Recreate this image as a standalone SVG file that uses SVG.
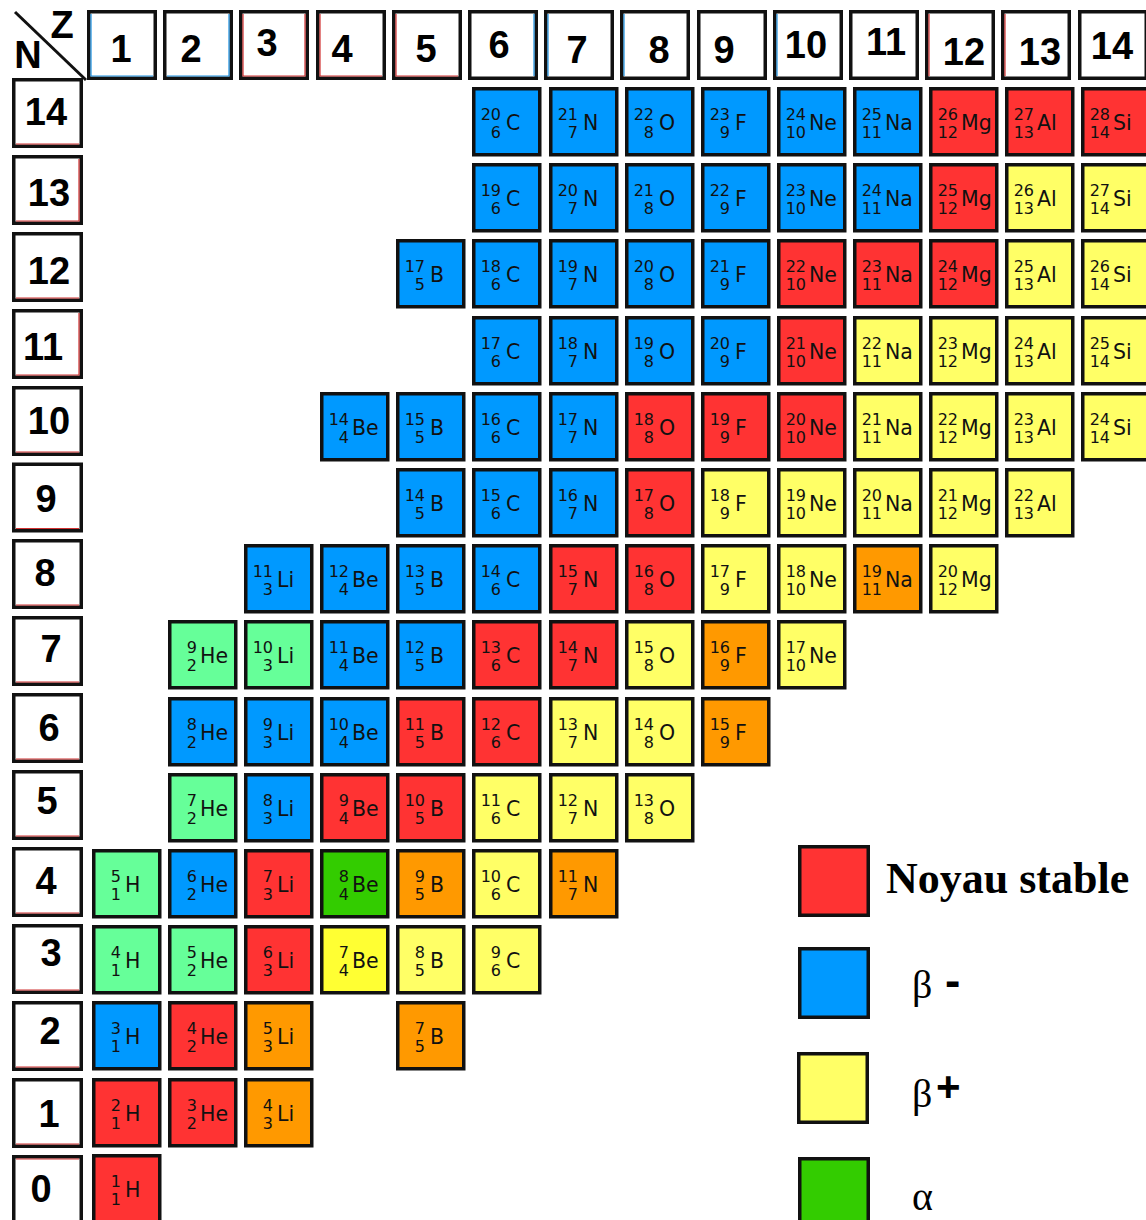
<svg xmlns="http://www.w3.org/2000/svg" width="1146" height="1220" viewBox="0 0 1146 1220">
<style>
.hd{fill:#fff;stroke:#111;stroke-width:3.5}
.ht{font-family:"Liberation Sans",Arial,sans-serif;font-weight:bold;font-size:38px;fill:#000;text-anchor:middle}
.tl{stroke-width:1.2;fill:none}
.tr{stroke:#d03030}.tb{stroke:#1a8fe0}
.k rect{stroke:#111;stroke-width:3.5}
.n{font-family:"DejaVu Sans",Verdana,sans-serif;font-size:16px;text-anchor:end;fill:#111}
.s{font-family:"DejaVu Sans",Verdana,sans-serif;font-size:20.5px;fill:#111}
.r{fill:#ff3333}.b{fill:#0099ff}.y{fill:#ffff66}.y2{fill:#ffff33}.o{fill:#ff9900}.l{fill:#66ff99}.g{fill:#33cc00}
.lg{stroke:#111;stroke-width:3.5}
.ser{font-family:"Liberation Serif","Times New Roman",serif;fill:#000}
</style>

<g id="corner">
<line x1="15" y1="12" x2="86" y2="80" stroke="#111" stroke-width="3"/>
<text class="ht" x="62" y="38" font-size="34">Z</text>
<text class="ht" x="28" y="68" font-size="34">N</text>
</g>

<g id="zheaders">
<g id="z1"><rect class="hd" x="88.75" y="11.75" width="66.5" height="66.5"/><path class="tl tb" d="M91,14V76H153"/><text class="ht" x="121" y="62">1</text></g>
<g id="z2"><rect class="hd" x="164.75" y="11.75" width="66.5" height="66.5"/><path class="tl tb" d="M167,76H229V14"/><text class="ht" x="191" y="62">2</text></g>
<g id="z3"><rect class="hd" x="240.75" y="11.75" width="66.5" height="66.5"/><path class="tl tr" d="M243,14V76H305V14"/><text class="ht" x="267" y="56">3</text></g>
<g id="z4"><rect class="hd" x="317.75" y="11.75" width="66.5" height="66.5"/><path class="tl tr" d="M320,14V76H382"/><text class="ht" x="342" y="62">4</text></g>
<g id="z5"><rect class="hd" x="393.75" y="11.75" width="66.5" height="66.5"/><path class="tl tr" d="M396,14V76H458"/><text class="ht" x="426" y="62">5</text></g>
<g id="z6"><rect class="hd" x="469.75" y="11.75" width="66.5" height="66.5"/><path class="tl tb" d="M534,14V76"/><text class="ht" x="499" y="58">6</text></g>
<g id="z7"><rect class="hd" x="545.75" y="11.75" width="66.5" height="66.5"/><path class="tl tb" d="M548,14V76"/><text class="ht" x="577" y="63">7</text></g>
<g id="z8"><rect class="hd" x="621.75" y="11.75" width="66.5" height="66.5"/><path class="tl tb" d="M624,14V76"/><text class="ht" x="659" y="63">8</text></g>
<g id="z9"><rect class="hd" x="698.75" y="11.75" width="66.5" height="66.5"/><text class="ht" x="724" y="63">9</text></g>
<g id="z10"><rect class="hd" x="774.75" y="11.75" width="66.5" height="66.5"/><path class="tl tb" d="M777,14V76"/><text class="ht" x="806" y="58">10</text></g>
<g id="z11"><rect class="hd" x="850.75" y="11.75" width="66.5" height="66.5"/><text class="ht" x="886" y="55">11</text></g>
<g id="z12"><rect class="hd" x="926.75" y="11.75" width="66.5" height="66.5"/><path class="tl tr" d="M929,14V76"/><text class="ht" x="964" y="65">12</text></g>
<g id="z13"><rect class="hd" x="1002.75" y="11.75" width="66.5" height="66.5"/><path class="tl tr" d="M1005,14V76"/><text class="ht" x="1040" y="65">13</text></g>
<g id="z14"><rect class="hd" x="1079.75" y="11.75" width="66.5" height="66.5"/><text class="ht" x="1112" y="59">14</text></g>
</g>

<g id="nheaders">
<g id="n14"><rect class="hd" x="13.75" y="79.75" width="67.5" height="66.5"/><path class="tl tr" d="M16,144H79"/><text class="ht" x="46" y="125">14</text></g>
<g id="n13"><rect class="hd" x="13.75" y="156.75" width="67.5" height="66.5"/><path class="tl tr" d="M16,221H79V159"/><text class="ht" x="49" y="206">13</text></g>
<g id="n12"><rect class="hd" x="13.75" y="233.75" width="67.5" height="66.5"/><path class="tl tr" d="M16,298H79"/><text class="ht" x="49" y="284">12</text></g>
<g id="n11"><rect class="hd" x="13.75" y="310.75" width="67.5" height="66.5"/><path class="tl tr" d="M16,375H79V313"/><text class="ht" x="43" y="360">11</text></g>
<g id="n10"><rect class="hd" x="13.75" y="387.75" width="67.5" height="66.5"/><path class="tl tr" d="M16,452H79"/><text class="ht" x="49" y="434">10</text></g>
<g id="n9"><rect class="hd" x="13.75" y="464.25" width="67.5" height="66.5"/><path class="tl tr" d="M16,528.5H79"/><text class="ht" x="46" y="512">9</text></g>
<g id="n8"><rect class="hd" x="13.75" y="540.75" width="67.5" height="66.5"/><path class="tl tr" d="M16,605H79"/><text class="ht" x="45" y="586">8</text></g>
<g id="n7"><rect class="hd" x="13.75" y="617.75" width="67.5" height="66.5"/><path class="tl tr" d="M16,682H79"/><text class="ht" x="51" y="662">7</text></g>
<g id="n6"><rect class="hd" x="13.75" y="694.75" width="67.5" height="66.5"/><path class="tl tr" d="M16,759H79"/><text class="ht" x="49" y="741">6</text></g>
<g id="n5"><rect class="hd" x="13.75" y="771.75" width="67.5" height="66.5"/><path class="tl tr" d="M16,836H79"/><text class="ht" x="47" y="814">5</text></g>
<g id="n4"><rect class="hd" x="13.75" y="848.75" width="67.5" height="66.5"/><path class="tl tr" d="M16,913H79"/><text class="ht" x="46" y="894">4</text></g>
<g id="n3"><rect class="hd" x="13.75" y="925.75" width="67.5" height="66.5"/><path class="tl tr" d="M16,990H79"/><text class="ht" x="51" y="966">3</text></g>
<g id="n2"><rect class="hd" x="13.75" y="1002.75" width="67.5" height="66.5"/><path class="tl tr" d="M16,1067H79"/><text class="ht" x="50" y="1044">2</text></g>
<g id="n1"><rect class="hd" x="13.75" y="1079.75" width="67.5" height="66.5"/><path class="tl tr" d="M16,1144H79"/><text class="ht" x="49" y="1127">1</text></g>
<g id="n0"><rect class="hd" x="13.75" y="1156.75" width="67.5" height="66.5"/><path class="tl tr" d="M16,1159H79"/><text class="ht" x="41" y="1202">0</text></g>
</g>

<g id="nuclides">
<!-- N=14 -->
<g id="C20" class="k" transform="translate(472,87)"><rect class="b" x="1.75" y="1.75" width="66" height="66"/><text class="n" x="29" y="33">20</text><text class="n" x="29" y="51">6</text><text class="s" x="34" y="43">C</text></g>
<g id="N21" class="k" transform="translate(549,87)"><rect class="b" x="1.75" y="1.75" width="66" height="66"/><text class="n" x="29" y="33">21</text><text class="n" x="29" y="51">7</text><text class="s" x="34" y="43">N</text></g>
<g id="O22" class="k" transform="translate(625,87)"><rect class="b" x="1.75" y="1.75" width="66" height="66"/><text class="n" x="29" y="33">22</text><text class="n" x="29" y="51">8</text><text class="s" x="34" y="43">O</text></g>
<g id="F23" class="k" transform="translate(701,87)"><rect class="b" x="1.75" y="1.75" width="66" height="66"/><text class="n" x="29" y="33">23</text><text class="n" x="29" y="51">9</text><text class="s" x="34" y="43">F</text></g>
<g id="Ne24" class="k" transform="translate(777,87)"><rect class="b" x="1.75" y="1.75" width="66" height="66"/><text class="n" x="29" y="33">24</text><text class="n" x="29" y="51">10</text><text class="s" x="32" y="43">Ne</text></g>
<g id="Na25" class="k" transform="translate(853,87)"><rect class="b" x="1.75" y="1.75" width="66" height="66"/><text class="n" x="29" y="33">25</text><text class="n" x="29" y="51">11</text><text class="s" x="32" y="43">Na</text></g>
<g id="Mg26" class="k" transform="translate(929,87)"><rect class="r" x="1.75" y="1.75" width="66" height="66"/><text class="n" x="29" y="33">26</text><text class="n" x="29" y="51">12</text><text class="s" x="32" y="43">Mg</text></g>
<g id="Al27" class="k" transform="translate(1005,87)"><rect class="r" x="1.75" y="1.75" width="66" height="66"/><text class="n" x="29" y="33">27</text><text class="n" x="29" y="51">13</text><text class="s" x="32" y="43">Al</text></g>
<g id="Si28" class="k" transform="translate(1081,87)"><rect class="r" x="1.75" y="1.75" width="66" height="66"/><text class="n" x="29" y="33">28</text><text class="n" x="29" y="51">14</text><text class="s" x="32" y="43">Si</text></g>
<!-- N=13 -->
<g id="C19" class="k" transform="translate(472,163)"><rect class="b" x="1.75" y="1.75" width="66" height="66"/><text class="n" x="29" y="33">19</text><text class="n" x="29" y="51">6</text><text class="s" x="34" y="43">C</text></g>
<g id="N20" class="k" transform="translate(549,163)"><rect class="b" x="1.75" y="1.75" width="66" height="66"/><text class="n" x="29" y="33">20</text><text class="n" x="29" y="51">7</text><text class="s" x="34" y="43">N</text></g>
<g id="O21" class="k" transform="translate(625,163)"><rect class="b" x="1.75" y="1.75" width="66" height="66"/><text class="n" x="29" y="33">21</text><text class="n" x="29" y="51">8</text><text class="s" x="34" y="43">O</text></g>
<g id="F22" class="k" transform="translate(701,163)"><rect class="b" x="1.75" y="1.75" width="66" height="66"/><text class="n" x="29" y="33">22</text><text class="n" x="29" y="51">9</text><text class="s" x="34" y="43">F</text></g>
<g id="Ne23" class="k" transform="translate(777,163)"><rect class="b" x="1.75" y="1.75" width="66" height="66"/><text class="n" x="29" y="33">23</text><text class="n" x="29" y="51">10</text><text class="s" x="32" y="43">Ne</text></g>
<g id="Na24" class="k" transform="translate(853,163)"><rect class="b" x="1.75" y="1.75" width="66" height="66"/><text class="n" x="29" y="33">24</text><text class="n" x="29" y="51">11</text><text class="s" x="32" y="43">Na</text></g>
<g id="Mg25" class="k" transform="translate(929,163)"><rect class="r" x="1.75" y="1.75" width="66" height="66"/><text class="n" x="29" y="33">25</text><text class="n" x="29" y="51">12</text><text class="s" x="32" y="43">Mg</text></g>
<g id="Al26" class="k" transform="translate(1005,163)"><rect class="y" x="1.75" y="1.75" width="66" height="66"/><text class="n" x="29" y="33">26</text><text class="n" x="29" y="51">13</text><text class="s" x="32" y="43">Al</text></g>
<g id="Si27" class="k" transform="translate(1081,163)"><rect class="y" x="1.75" y="1.75" width="66" height="66"/><text class="n" x="29" y="33">27</text><text class="n" x="29" y="51">14</text><text class="s" x="32" y="43">Si</text></g>
<!-- N=12 -->
<g id="B17" class="k" transform="translate(396,239)"><rect class="b" x="1.75" y="1.75" width="66" height="66"/><text class="n" x="29" y="33">17</text><text class="n" x="29" y="51">5</text><text class="s" x="34" y="43">B</text></g>
<g id="C18" class="k" transform="translate(472,239)"><rect class="b" x="1.75" y="1.75" width="66" height="66"/><text class="n" x="29" y="33">18</text><text class="n" x="29" y="51">6</text><text class="s" x="34" y="43">C</text></g>
<g id="N19" class="k" transform="translate(549,239)"><rect class="b" x="1.75" y="1.75" width="66" height="66"/><text class="n" x="29" y="33">19</text><text class="n" x="29" y="51">7</text><text class="s" x="34" y="43">N</text></g>
<g id="O20" class="k" transform="translate(625,239)"><rect class="b" x="1.75" y="1.75" width="66" height="66"/><text class="n" x="29" y="33">20</text><text class="n" x="29" y="51">8</text><text class="s" x="34" y="43">O</text></g>
<g id="F21" class="k" transform="translate(701,239)"><rect class="b" x="1.75" y="1.75" width="66" height="66"/><text class="n" x="29" y="33">21</text><text class="n" x="29" y="51">9</text><text class="s" x="34" y="43">F</text></g>
<g id="Ne22" class="k" transform="translate(777,239)"><rect class="r" x="1.75" y="1.75" width="66" height="66"/><text class="n" x="29" y="33">22</text><text class="n" x="29" y="51">10</text><text class="s" x="32" y="43">Ne</text></g>
<g id="Na23" class="k" transform="translate(853,239)"><rect class="r" x="1.75" y="1.75" width="66" height="66"/><text class="n" x="29" y="33">23</text><text class="n" x="29" y="51">11</text><text class="s" x="32" y="43">Na</text></g>
<g id="Mg24" class="k" transform="translate(929,239)"><rect class="r" x="1.75" y="1.75" width="66" height="66"/><text class="n" x="29" y="33">24</text><text class="n" x="29" y="51">12</text><text class="s" x="32" y="43">Mg</text></g>
<g id="Al25" class="k" transform="translate(1005,239)"><rect class="y" x="1.75" y="1.75" width="66" height="66"/><text class="n" x="29" y="33">25</text><text class="n" x="29" y="51">13</text><text class="s" x="32" y="43">Al</text></g>
<g id="Si26" class="k" transform="translate(1081,239)"><rect class="y" x="1.75" y="1.75" width="66" height="66"/><text class="n" x="29" y="33">26</text><text class="n" x="29" y="51">14</text><text class="s" x="32" y="43">Si</text></g>
<!-- N=11 -->
<g id="C17" class="k" transform="translate(472,316)"><rect class="b" x="1.75" y="1.75" width="66" height="66"/><text class="n" x="29" y="33">17</text><text class="n" x="29" y="51">6</text><text class="s" x="34" y="43">C</text></g>
<g id="N18" class="k" transform="translate(549,316)"><rect class="b" x="1.75" y="1.75" width="66" height="66"/><text class="n" x="29" y="33">18</text><text class="n" x="29" y="51">7</text><text class="s" x="34" y="43">N</text></g>
<g id="O19" class="k" transform="translate(625,316)"><rect class="b" x="1.75" y="1.75" width="66" height="66"/><text class="n" x="29" y="33">19</text><text class="n" x="29" y="51">8</text><text class="s" x="34" y="43">O</text></g>
<g id="F20" class="k" transform="translate(701,316)"><rect class="b" x="1.75" y="1.75" width="66" height="66"/><text class="n" x="29" y="33">20</text><text class="n" x="29" y="51">9</text><text class="s" x="34" y="43">F</text></g>
<g id="Ne21" class="k" transform="translate(777,316)"><rect class="r" x="1.75" y="1.75" width="66" height="66"/><text class="n" x="29" y="33">21</text><text class="n" x="29" y="51">10</text><text class="s" x="32" y="43">Ne</text></g>
<g id="Na22" class="k" transform="translate(853,316)"><rect class="y" x="1.75" y="1.75" width="66" height="66"/><text class="n" x="29" y="33">22</text><text class="n" x="29" y="51">11</text><text class="s" x="32" y="43">Na</text></g>
<g id="Mg23" class="k" transform="translate(929,316)"><rect class="y" x="1.75" y="1.75" width="66" height="66"/><text class="n" x="29" y="33">23</text><text class="n" x="29" y="51">12</text><text class="s" x="32" y="43">Mg</text></g>
<g id="Al24" class="k" transform="translate(1005,316)"><rect class="y" x="1.75" y="1.75" width="66" height="66"/><text class="n" x="29" y="33">24</text><text class="n" x="29" y="51">13</text><text class="s" x="32" y="43">Al</text></g>
<g id="Si25" class="k" transform="translate(1081,316)"><rect class="y" x="1.75" y="1.75" width="66" height="66"/><text class="n" x="29" y="33">25</text><text class="n" x="29" y="51">14</text><text class="s" x="32" y="43">Si</text></g>
<!-- N=10 -->
<g id="Be14" class="k" transform="translate(320,392)"><rect class="b" x="1.75" y="1.75" width="66" height="66"/><text class="n" x="29" y="33">14</text><text class="n" x="29" y="51">4</text><text class="s" x="32" y="43">Be</text></g>
<g id="B15" class="k" transform="translate(396,392)"><rect class="b" x="1.75" y="1.75" width="66" height="66"/><text class="n" x="29" y="33">15</text><text class="n" x="29" y="51">5</text><text class="s" x="34" y="43">B</text></g>
<g id="C16" class="k" transform="translate(472,392)"><rect class="b" x="1.75" y="1.75" width="66" height="66"/><text class="n" x="29" y="33">16</text><text class="n" x="29" y="51">6</text><text class="s" x="34" y="43">C</text></g>
<g id="N17" class="k" transform="translate(549,392)"><rect class="b" x="1.75" y="1.75" width="66" height="66"/><text class="n" x="29" y="33">17</text><text class="n" x="29" y="51">7</text><text class="s" x="34" y="43">N</text></g>
<g id="O18" class="k" transform="translate(625,392)"><rect class="r" x="1.75" y="1.75" width="66" height="66"/><text class="n" x="29" y="33">18</text><text class="n" x="29" y="51">8</text><text class="s" x="34" y="43">O</text></g>
<g id="F19" class="k" transform="translate(701,392)"><rect class="r" x="1.75" y="1.75" width="66" height="66"/><text class="n" x="29" y="33">19</text><text class="n" x="29" y="51">9</text><text class="s" x="34" y="43">F</text></g>
<g id="Ne20" class="k" transform="translate(777,392)"><rect class="r" x="1.75" y="1.75" width="66" height="66"/><text class="n" x="29" y="33">20</text><text class="n" x="29" y="51">10</text><text class="s" x="32" y="43">Ne</text></g>
<g id="Na21" class="k" transform="translate(853,392)"><rect class="y" x="1.75" y="1.75" width="66" height="66"/><text class="n" x="29" y="33">21</text><text class="n" x="29" y="51">11</text><text class="s" x="32" y="43">Na</text></g>
<g id="Mg22" class="k" transform="translate(929,392)"><rect class="y" x="1.75" y="1.75" width="66" height="66"/><text class="n" x="29" y="33">22</text><text class="n" x="29" y="51">12</text><text class="s" x="32" y="43">Mg</text></g>
<g id="Al23" class="k" transform="translate(1005,392)"><rect class="y" x="1.75" y="1.75" width="66" height="66"/><text class="n" x="29" y="33">23</text><text class="n" x="29" y="51">13</text><text class="s" x="32" y="43">Al</text></g>
<g id="Si24" class="k" transform="translate(1081,392)"><rect class="y" x="1.75" y="1.75" width="66" height="66"/><text class="n" x="29" y="33">24</text><text class="n" x="29" y="51">14</text><text class="s" x="32" y="43">Si</text></g>
<!-- N=9 -->
<g id="B14" class="k" transform="translate(396,468)"><rect class="b" x="1.75" y="1.75" width="66" height="66"/><text class="n" x="29" y="33">14</text><text class="n" x="29" y="51">5</text><text class="s" x="34" y="43">B</text></g>
<g id="C15" class="k" transform="translate(472,468)"><rect class="b" x="1.75" y="1.75" width="66" height="66"/><text class="n" x="29" y="33">15</text><text class="n" x="29" y="51">6</text><text class="s" x="34" y="43">C</text></g>
<g id="N16" class="k" transform="translate(549,468)"><rect class="b" x="1.75" y="1.75" width="66" height="66"/><text class="n" x="29" y="33">16</text><text class="n" x="29" y="51">7</text><text class="s" x="34" y="43">N</text></g>
<g id="O17" class="k" transform="translate(625,468)"><rect class="r" x="1.75" y="1.75" width="66" height="66"/><text class="n" x="29" y="33">17</text><text class="n" x="29" y="51">8</text><text class="s" x="34" y="43">O</text></g>
<g id="F18" class="k" transform="translate(701,468)"><rect class="y" x="1.75" y="1.75" width="66" height="66"/><text class="n" x="29" y="33">18</text><text class="n" x="29" y="51">9</text><text class="s" x="34" y="43">F</text></g>
<g id="Ne19" class="k" transform="translate(777,468)"><rect class="y" x="1.75" y="1.75" width="66" height="66"/><text class="n" x="29" y="33">19</text><text class="n" x="29" y="51">10</text><text class="s" x="32" y="43">Ne</text></g>
<g id="Na20" class="k" transform="translate(853,468)"><rect class="y" x="1.75" y="1.75" width="66" height="66"/><text class="n" x="29" y="33">20</text><text class="n" x="29" y="51">11</text><text class="s" x="32" y="43">Na</text></g>
<g id="Mg21" class="k" transform="translate(929,468)"><rect class="y" x="1.75" y="1.75" width="66" height="66"/><text class="n" x="29" y="33">21</text><text class="n" x="29" y="51">12</text><text class="s" x="32" y="43">Mg</text></g>
<g id="Al22" class="k" transform="translate(1005,468)"><rect class="y" x="1.75" y="1.75" width="66" height="66"/><text class="n" x="29" y="33">22</text><text class="n" x="29" y="51">13</text><text class="s" x="32" y="43">Al</text></g>
<!-- N=8 -->
<g id="Li11" class="k" transform="translate(244,544)"><rect class="b" x="1.75" y="1.75" width="66" height="66"/><text class="n" x="29" y="33">11</text><text class="n" x="29" y="51">3</text><text class="s" x="33" y="43">Li</text></g>
<g id="Be12" class="k" transform="translate(320,544)"><rect class="b" x="1.75" y="1.75" width="66" height="66"/><text class="n" x="29" y="33">12</text><text class="n" x="29" y="51">4</text><text class="s" x="32" y="43">Be</text></g>
<g id="B13" class="k" transform="translate(396,544)"><rect class="b" x="1.75" y="1.75" width="66" height="66"/><text class="n" x="29" y="33">13</text><text class="n" x="29" y="51">5</text><text class="s" x="34" y="43">B</text></g>
<g id="C14" class="k" transform="translate(472,544)"><rect class="b" x="1.75" y="1.75" width="66" height="66"/><text class="n" x="29" y="33">14</text><text class="n" x="29" y="51">6</text><text class="s" x="34" y="43">C</text></g>
<g id="N15" class="k" transform="translate(549,544)"><rect class="r" x="1.75" y="1.75" width="66" height="66"/><text class="n" x="29" y="33">15</text><text class="n" x="29" y="51">7</text><text class="s" x="34" y="43">N</text></g>
<g id="O16" class="k" transform="translate(625,544)"><rect class="r" x="1.75" y="1.75" width="66" height="66"/><text class="n" x="29" y="33">16</text><text class="n" x="29" y="51">8</text><text class="s" x="34" y="43">O</text></g>
<g id="F17" class="k" transform="translate(701,544)"><rect class="y" x="1.75" y="1.75" width="66" height="66"/><text class="n" x="29" y="33">17</text><text class="n" x="29" y="51">9</text><text class="s" x="34" y="43">F</text></g>
<g id="Ne18" class="k" transform="translate(777,544)"><rect class="y" x="1.75" y="1.75" width="66" height="66"/><text class="n" x="29" y="33">18</text><text class="n" x="29" y="51">10</text><text class="s" x="32" y="43">Ne</text></g>
<g id="Na19" class="k" transform="translate(853,544)"><rect class="o" x="1.75" y="1.75" width="66" height="66"/><text class="n" x="29" y="33">19</text><text class="n" x="29" y="51">11</text><text class="s" x="32" y="43">Na</text></g>
<g id="Mg20" class="k" transform="translate(929,544)"><rect class="y" x="1.75" y="1.75" width="66" height="66"/><text class="n" x="29" y="33">20</text><text class="n" x="29" y="51">12</text><text class="s" x="32" y="43">Mg</text></g>
<!-- N=7 -->
<g id="He9" class="k" transform="translate(168,620)"><rect class="l" x="1.75" y="1.75" width="66" height="66"/><text class="n" x="29" y="33">9</text><text class="n" x="29" y="51">2</text><text class="s" x="32" y="43">He</text></g>
<g id="Li10" class="k" transform="translate(244,620)"><rect class="l" x="1.75" y="1.75" width="66" height="66"/><text class="n" x="29" y="33">10</text><text class="n" x="29" y="51">3</text><text class="s" x="33" y="43">Li</text></g>
<g id="Be11" class="k" transform="translate(320,620)"><rect class="b" x="1.75" y="1.75" width="66" height="66"/><text class="n" x="29" y="33">11</text><text class="n" x="29" y="51">4</text><text class="s" x="32" y="43">Be</text></g>
<g id="B12" class="k" transform="translate(396,620)"><rect class="b" x="1.75" y="1.75" width="66" height="66"/><text class="n" x="29" y="33">12</text><text class="n" x="29" y="51">5</text><text class="s" x="34" y="43">B</text></g>
<g id="C13" class="k" transform="translate(472,620)"><rect class="r" x="1.75" y="1.75" width="66" height="66"/><text class="n" x="29" y="33">13</text><text class="n" x="29" y="51">6</text><text class="s" x="34" y="43">C</text></g>
<g id="N14" class="k" transform="translate(549,620)"><rect class="r" x="1.75" y="1.75" width="66" height="66"/><text class="n" x="29" y="33">14</text><text class="n" x="29" y="51">7</text><text class="s" x="34" y="43">N</text></g>
<g id="O15" class="k" transform="translate(625,620)"><rect class="y" x="1.75" y="1.75" width="66" height="66"/><text class="n" x="29" y="33">15</text><text class="n" x="29" y="51">8</text><text class="s" x="34" y="43">O</text></g>
<g id="F16" class="k" transform="translate(701,620)"><rect class="o" x="1.75" y="1.75" width="66" height="66"/><text class="n" x="29" y="33">16</text><text class="n" x="29" y="51">9</text><text class="s" x="34" y="43">F</text></g>
<g id="Ne17" class="k" transform="translate(777,620)"><rect class="y" x="1.75" y="1.75" width="66" height="66"/><text class="n" x="29" y="33">17</text><text class="n" x="29" y="51">10</text><text class="s" x="32" y="43">Ne</text></g>
<!-- N=6 -->
<g id="He8" class="k" transform="translate(168,697)"><rect class="b" x="1.75" y="1.75" width="66" height="66"/><text class="n" x="29" y="33">8</text><text class="n" x="29" y="51">2</text><text class="s" x="32" y="43">He</text></g>
<g id="Li9" class="k" transform="translate(244,697)"><rect class="b" x="1.75" y="1.75" width="66" height="66"/><text class="n" x="29" y="33">9</text><text class="n" x="29" y="51">3</text><text class="s" x="33" y="43">Li</text></g>
<g id="Be10" class="k" transform="translate(320,697)"><rect class="b" x="1.75" y="1.75" width="66" height="66"/><text class="n" x="29" y="33">10</text><text class="n" x="29" y="51">4</text><text class="s" x="32" y="43">Be</text></g>
<g id="B11" class="k" transform="translate(396,697)"><rect class="r" x="1.75" y="1.75" width="66" height="66"/><text class="n" x="29" y="33">11</text><text class="n" x="29" y="51">5</text><text class="s" x="34" y="43">B</text></g>
<g id="C12" class="k" transform="translate(472,697)"><rect class="r" x="1.75" y="1.75" width="66" height="66"/><text class="n" x="29" y="33">12</text><text class="n" x="29" y="51">6</text><text class="s" x="34" y="43">C</text></g>
<g id="N13" class="k" transform="translate(549,697)"><rect class="y" x="1.75" y="1.75" width="66" height="66"/><text class="n" x="29" y="33">13</text><text class="n" x="29" y="51">7</text><text class="s" x="34" y="43">N</text></g>
<g id="O14" class="k" transform="translate(625,697)"><rect class="y" x="1.75" y="1.75" width="66" height="66"/><text class="n" x="29" y="33">14</text><text class="n" x="29" y="51">8</text><text class="s" x="34" y="43">O</text></g>
<g id="F15" class="k" transform="translate(701,697)"><rect class="o" x="1.75" y="1.75" width="66" height="66"/><text class="n" x="29" y="33">15</text><text class="n" x="29" y="51">9</text><text class="s" x="34" y="43">F</text></g>
<!-- N=5 -->
<g id="He7" class="k" transform="translate(168,773)"><rect class="l" x="1.75" y="1.75" width="66" height="66"/><text class="n" x="29" y="33">7</text><text class="n" x="29" y="51">2</text><text class="s" x="32" y="43">He</text></g>
<g id="Li8" class="k" transform="translate(244,773)"><rect class="b" x="1.75" y="1.75" width="66" height="66"/><text class="n" x="29" y="33">8</text><text class="n" x="29" y="51">3</text><text class="s" x="33" y="43">Li</text></g>
<g id="Be9" class="k" transform="translate(320,773)"><rect class="r" x="1.75" y="1.75" width="66" height="66"/><text class="n" x="29" y="33">9</text><text class="n" x="29" y="51">4</text><text class="s" x="32" y="43">Be</text></g>
<g id="B10" class="k" transform="translate(396,773)"><rect class="r" x="1.75" y="1.75" width="66" height="66"/><text class="n" x="29" y="33">10</text><text class="n" x="29" y="51">5</text><text class="s" x="34" y="43">B</text></g>
<g id="C11" class="k" transform="translate(472,773)"><rect class="y" x="1.75" y="1.75" width="66" height="66"/><text class="n" x="29" y="33">11</text><text class="n" x="29" y="51">6</text><text class="s" x="34" y="43">C</text></g>
<g id="N12" class="k" transform="translate(549,773)"><rect class="y" x="1.75" y="1.75" width="66" height="66"/><text class="n" x="29" y="33">12</text><text class="n" x="29" y="51">7</text><text class="s" x="34" y="43">N</text></g>
<g id="O13" class="k" transform="translate(625,773)"><rect class="y" x="1.75" y="1.75" width="66" height="66"/><text class="n" x="29" y="33">13</text><text class="n" x="29" y="51">8</text><text class="s" x="34" y="43">O</text></g>
<!-- N=4 -->
<g id="H5" class="k" transform="translate(92,849)"><rect class="l" x="1.75" y="1.75" width="66" height="66"/><text class="n" x="29" y="33">5</text><text class="n" x="29" y="51">1</text><text class="s" x="33" y="43">H</text></g>
<g id="He6" class="k" transform="translate(168,849)"><rect class="b" x="1.75" y="1.75" width="66" height="66"/><text class="n" x="29" y="33">6</text><text class="n" x="29" y="51">2</text><text class="s" x="32" y="43">He</text></g>
<g id="Li7" class="k" transform="translate(244,849)"><rect class="r" x="1.75" y="1.75" width="66" height="66"/><text class="n" x="29" y="33">7</text><text class="n" x="29" y="51">3</text><text class="s" x="33" y="43">Li</text></g>
<g id="Be8" class="k" transform="translate(320,849)"><rect class="g" x="1.75" y="1.75" width="66" height="66"/><text class="n" x="29" y="33">8</text><text class="n" x="29" y="51">4</text><text class="s" x="32" y="43">Be</text></g>
<g id="B9" class="k" transform="translate(396,849)"><rect class="o" x="1.75" y="1.75" width="66" height="66"/><text class="n" x="29" y="33">9</text><text class="n" x="29" y="51">5</text><text class="s" x="34" y="43">B</text></g>
<g id="C10" class="k" transform="translate(472,849)"><rect class="y" x="1.75" y="1.75" width="66" height="66"/><text class="n" x="29" y="33">10</text><text class="n" x="29" y="51">6</text><text class="s" x="34" y="43">C</text></g>
<g id="N11" class="k" transform="translate(549,849)"><rect class="o" x="1.75" y="1.75" width="66" height="66"/><text class="n" x="29" y="33">11</text><text class="n" x="29" y="51">7</text><text class="s" x="34" y="43">N</text></g>
<!-- N=3 -->
<g id="H4" class="k" transform="translate(92,925)"><rect class="l" x="1.75" y="1.75" width="66" height="66"/><text class="n" x="29" y="33">4</text><text class="n" x="29" y="51">1</text><text class="s" x="33" y="43">H</text></g>
<g id="He5" class="k" transform="translate(168,925)"><rect class="l" x="1.75" y="1.75" width="66" height="66"/><text class="n" x="29" y="33">5</text><text class="n" x="29" y="51">2</text><text class="s" x="32" y="43">He</text></g>
<g id="Li6" class="k" transform="translate(244,925)"><rect class="r" x="1.75" y="1.75" width="66" height="66"/><text class="n" x="29" y="33">6</text><text class="n" x="29" y="51">3</text><text class="s" x="33" y="43">Li</text></g>
<g id="Be7" class="k" transform="translate(320,925)"><rect class="y2" x="1.75" y="1.75" width="66" height="66"/><text class="n" x="29" y="33">7</text><text class="n" x="29" y="51">4</text><text class="s" x="32" y="43">Be</text></g>
<g id="B8" class="k" transform="translate(396,925)"><rect class="y" x="1.75" y="1.75" width="66" height="66"/><text class="n" x="29" y="33">8</text><text class="n" x="29" y="51">5</text><text class="s" x="34" y="43">B</text></g>
<g id="C9" class="k" transform="translate(472,925)"><rect class="y" x="1.75" y="1.75" width="66" height="66"/><text class="n" x="29" y="33">9</text><text class="n" x="29" y="51">6</text><text class="s" x="34" y="43">C</text></g>
<!-- N=2 -->
<g id="H3" class="k" transform="translate(92,1001)"><rect class="b" x="1.75" y="1.75" width="66" height="66"/><text class="n" x="29" y="33">3</text><text class="n" x="29" y="51">1</text><text class="s" x="33" y="43">H</text></g>
<g id="He4" class="k" transform="translate(168,1001)"><rect class="r" x="1.75" y="1.75" width="66" height="66"/><text class="n" x="29" y="33">4</text><text class="n" x="29" y="51">2</text><text class="s" x="32" y="43">He</text></g>
<g id="Li5" class="k" transform="translate(244,1001)"><rect class="o" x="1.75" y="1.75" width="66" height="66"/><text class="n" x="29" y="33">5</text><text class="n" x="29" y="51">3</text><text class="s" x="33" y="43">Li</text></g>
<g id="B7" class="k" transform="translate(396,1001)"><rect class="o" x="1.75" y="1.75" width="66" height="66"/><text class="n" x="29" y="33">7</text><text class="n" x="29" y="51">5</text><text class="s" x="34" y="43">B</text></g>
<!-- N=1 -->
<g id="H2" class="k" transform="translate(92,1078)"><rect class="r" x="1.75" y="1.75" width="66" height="66"/><text class="n" x="29" y="33">2</text><text class="n" x="29" y="51">1</text><text class="s" x="33" y="43">H</text></g>
<g id="He3" class="k" transform="translate(168,1078)"><rect class="r" x="1.75" y="1.75" width="66" height="66"/><text class="n" x="29" y="33">3</text><text class="n" x="29" y="51">2</text><text class="s" x="32" y="43">He</text></g>
<g id="Li4" class="k" transform="translate(244,1078)"><rect class="o" x="1.75" y="1.75" width="66" height="66"/><text class="n" x="29" y="33">4</text><text class="n" x="29" y="51">3</text><text class="s" x="33" y="43">Li</text></g>
<!-- N=0 -->
<g id="H1" class="k" transform="translate(92,1154)"><rect class="r" x="1.75" y="1.75" width="66" height="66"/><text class="n" x="29" y="33">1</text><text class="n" x="29" y="51">1</text><text class="s" x="33" y="43">H</text></g>
</g>

<g id="legend">
<g id="leg-stable"><rect class="lg r" x="799.75" y="846.75" width="68.5" height="68.5"/><text class="ser" x="886" y="893" font-size="44" font-weight="bold">Noyau stable</text></g>
<g id="leg-bminus"><rect class="lg b" x="799.75" y="948.75" width="68.5" height="68.5"/><text class="ser" x="912" y="998" font-size="40">β</text><text x="945" y="996" font-family="Liberation Sans,Arial,sans-serif" font-weight="bold" font-size="46">-</text></g>
<g id="leg-bplus"><rect class="lg y" x="798.75" y="1053.75" width="68.5" height="68.5"/><text class="ser" x="912" y="1107" font-size="40">β</text><text x="936" y="1101" font-family="Liberation Sans,Arial,sans-serif" font-weight="bold" font-size="42">+</text></g>
<g id="leg-alpha"><rect class="lg g" x="799.75" y="1158.75" width="68.5" height="68.5"/><text class="ser" x="912" y="1210" font-size="40">α</text></g>
</g>
</svg>
